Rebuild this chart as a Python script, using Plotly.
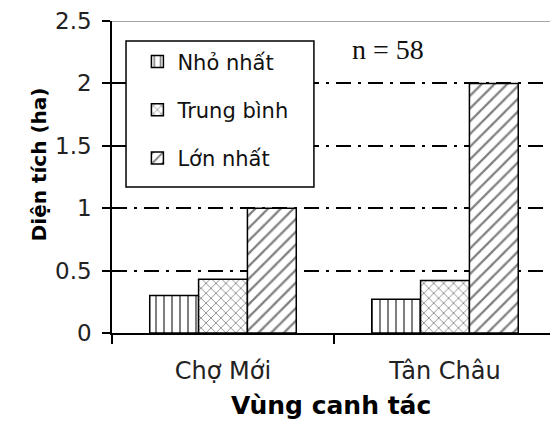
import plotly.graph_objects as go

categories = ["Chợ Mới", "Tân Châu"]
series_names = ["Nhỏ nhất", "Trung bình", "Lớn nhất"]
nho_nhat = [0.30, 0.27]
trung_binh = [0.43, 0.42]
lon_nhat = [1.0, 2.0]
y_ticks = [0, 0.5, 1, 1.5, 2, 2.5]
y_tick_labels = ["0", "0.5", "1", "1.5", "2", "2.5"]

values = [nho_nhat, trung_binh, lon_nhat]
patterns = [
    dict(shape="|", size=8, solidity=0.25),
    dict(shape="x", size=7, solidity=0.22),
    dict(shape="/", size=9, solidity=0.25),
]

FONT = "DejaVu Sans"
fig = go.Figure()
for i, (name, vals, pat) in enumerate(zip(series_names, values, patterns)):
    fig.add_trace(go.Bar(
        x=categories, y=vals, name=name, legendgroup=f"g{i}",
        marker=dict(color="white", line=dict(color="black", width=1.5),
                    pattern=dict(fgcolor="black", bgcolor="white", fillmode="overlay", **pat)),
    ))

fig.update_layout(
    width=550, height=421,
    margin=dict(l=112, r=0, t=21, b=88),
    paper_bgcolor="white", plot_bgcolor="white",
    barmode="group", bargap=0.34, bargroupgap=0,
    font=dict(family=FONT, size=22, color="#222"),
    showlegend=True,
    legend=dict(x=0.058, y=0.935, xanchor="left", yanchor="top",
                bgcolor="rgba(0,0,0,0)", borderwidth=0,
                traceorder="grouped", tracegroupgap=18,
                font=dict(family=FONT, size=21, color="#111")),
    xaxis=dict(type="category", range=[-0.5, 1.473], tickson="boundaries",
               ticks="outside", ticklen=9, tickwidth=1.5, tickcolor="black",
               showline=True, linecolor="black", linewidth=1.5, showgrid=False,
               ticklabelstandoff=15,
               tickfont=dict(family=FONT, size=24, color="#222")),
    yaxis=dict(range=[0, 2.5], tickvals=y_ticks, ticktext=y_tick_labels,
               ticks="outside", ticklen=8, tickwidth=1.5, tickcolor="black",
               showline=True, linecolor="black", linewidth=1.5,
               showgrid=True, gridcolor="black", gridwidth=1.5,
               griddash="15px,7px,3px,7px", zeroline=False,
               ticklabelstandoff=6,
               tickfont=dict(family=FONT, size=23, color="#222")),
    yaxis2=dict(range=[0, 2.5], tickvals=y_ticks, overlaying="y", anchor="x", side="left",
                ticks="inside", ticklen=8, tickwidth=1.5, tickcolor="black",
                showticklabels=False, showgrid=False, showline=False, zeroline=False),
)

# top border of plot area
fig.add_shape(type="line", xref="paper", yref="y", x0=0, x1=1, y0=2.5, y1=2.5,
              line=dict(color="#888", width=1.5), layer="above")
# legend box
fig.add_shape(type="rect", xref="paper", yref="paper", x0=0.032, x1=0.461, y0=0.468, y1=0.936,
              line=dict(color="black", width=1.5), fillcolor="white", layer="above")

fig.add_annotation(text="n = 58", xref="paper", yref="paper", x=0.63, y=0.91,
                   xanchor="center", yanchor="middle",
                   showarrow=False, font=dict(family="Liberation Serif", size=28, color="#111"),
                   bgcolor="white")
fig.add_annotation(text="<b>Vùng canh tác</b>", xref="paper", yref="paper", x=0.5, y=-0.231,
                   yanchor="middle", showarrow=False,
                   font=dict(family=FONT, size=25, color="black"))
fig.add_annotation(text="<b>Diện tích (ha)</b>", xref="paper", yref="paper", x=-0.2, y=0.542,
                   textangle=-90, showarrow=False,
                   font=dict(family=FONT, size=20, color="black"))

fig.write_html("out.html", config={"displayModeBar": False},
               post_script="document.body.style.margin='0';")
